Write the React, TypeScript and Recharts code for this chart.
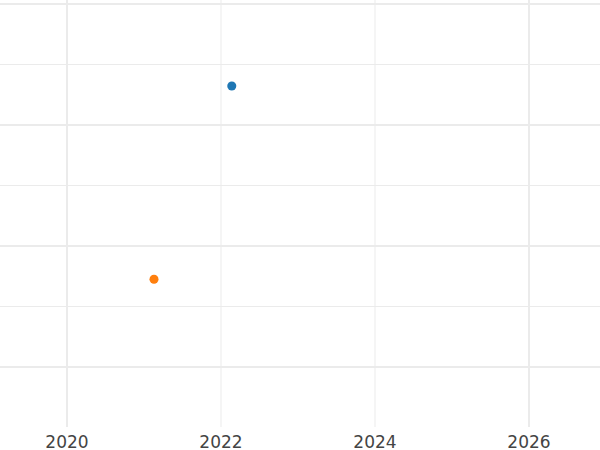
import { ScatterChart, Scatter, XAxis, YAxis, ReferenceLine } from "recharts";

// one point per series
const seriesNames = ["A", "B"];
const seriesX = [2022.14, 2021.13];
const seriesY = [5.645, 2.45];
const seriesColors = ["#1f77b4", "#ff7f0e"];

const xTicks = [2020, 2022, 2024, 2026];
const xMajor = [2020, 2026];
const yGrid = [1, 2, 3, 4, 5, 6, 7];
const yMajor = [1, 3, 5, 7];

const GRID = "#ebebeb";

export default function App() {
  return (
    <div style={{ position: "absolute", left: 0, top: 0, width: 600, height: 450, background: "#fff" }}>
      <ScatterChart width={600} height={450} margin={{ top: 0, right: 0, bottom: 0, left: 0 }}>
        <XAxis
          type="number"
          dataKey="x"
          domain={[2019.13, 2026.922]}
          ticks={xTicks}
          allowDataOverflow
          axisLine={false}
          tickLine={false}
          tickSize={0}
          tickMargin={9}
          height={23}
          tick={{ fill: "#444", fontSize: 17, fontFamily: "DejaVu Sans" }}
        />
        <YAxis type="number" dataKey="y" domain={[0.008, 7.066]} allowDataOverflow hide />
        {xTicks.map((v) => (
          <ReferenceLine
            key={"x" + v}
            x={v}
            stroke={GRID}
            strokeWidth={xMajor.includes(v) ? 2 : 1}
          />
        ))}
        {yGrid.map((v) => (
          <ReferenceLine
            key={"y" + v}
            y={v}
            stroke={GRID}
            strokeWidth={yMajor.includes(v) ? 2 : 1}
          />
        ))}
        {seriesNames.map((name, i) => (
          <Scatter
            key={name}
            name={name}
            data={[{ x: seriesX[i], y: seriesY[i] }]}
            fill={seriesColors[i]}
            isAnimationActive={false}
          />
        ))}
      </ScatterChart>
    </div>
  );
}
